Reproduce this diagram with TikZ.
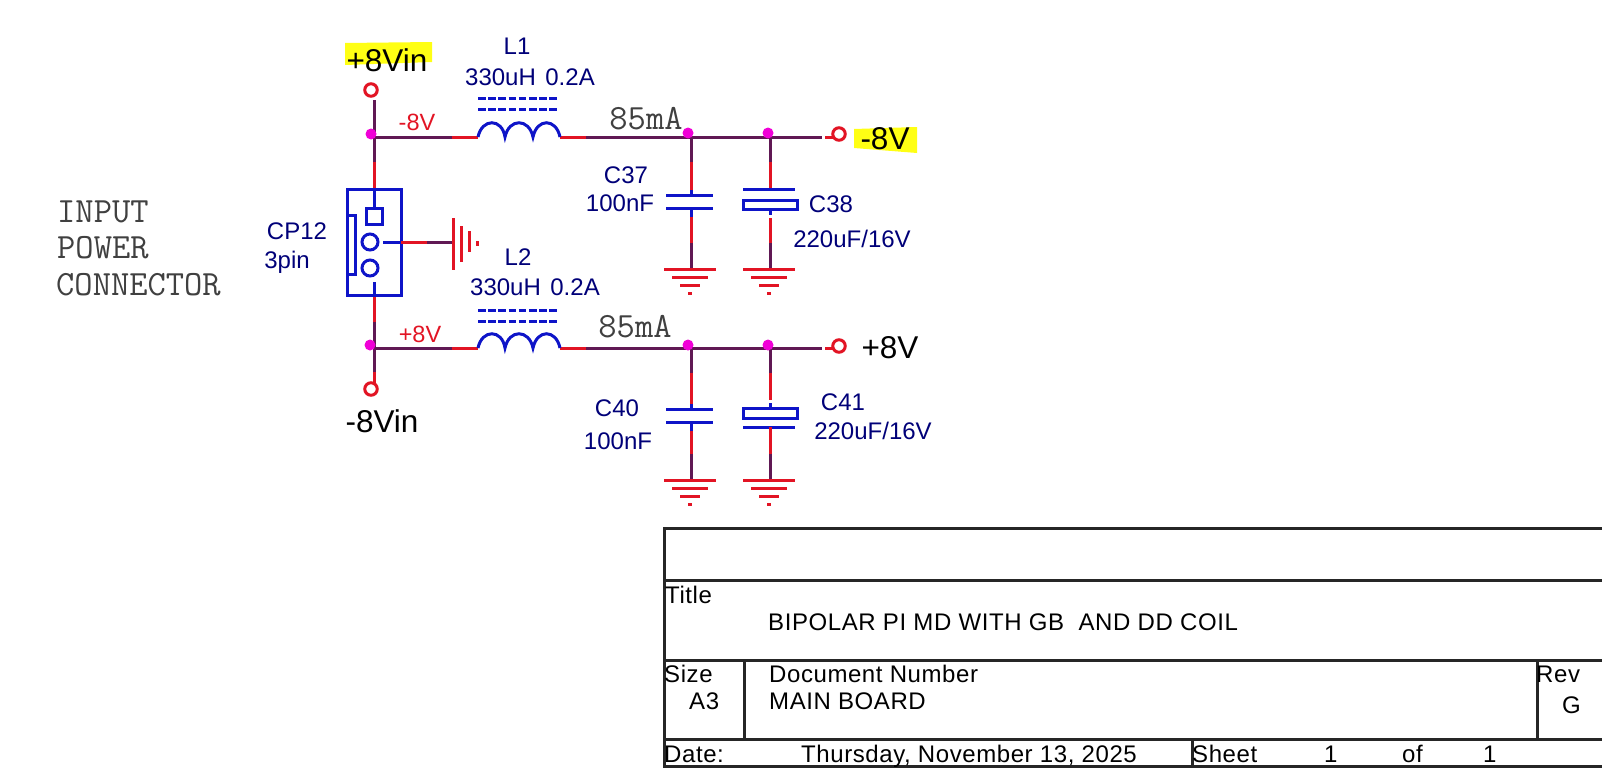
\documentclass[tikz,border=0pt]{standalone}
\usepackage{fontspec}
\usepackage{xcolor}
\setmainfont{Liberation Sans}
\usetikzlibrary{positioning,calc}
\definecolor{netpurple}{RGB}{96,24,84}
\definecolor{pinred}{RGB}{226,20,36}
\definecolor{partblue}{RGB}{14,20,200}
\definecolor{labelnavy}{RGB}{0,0,120}
\definecolor{junctionpink}{RGB}{240,0,215}
\definecolor{markyellow}{RGB}{255,255,20}
\tikzset{
  net/.style={draw=netpurple, line width=3pt},
  pin/.style={draw=pinred, line width=3pt},
  part/.style={draw=partblue, line width=3pt},
  gndbar/.style={draw=pinred, line width=3pt},
  frameline/.style={draw=black!85, line width=3pt},
  junction/.style={circle, fill=junctionpink, inner sep=0pt, minimum size=11pt},
  port/.style={circle, draw=pinred, line width=3pt, inner sep=0pt, minimum size=12.5pt},
  pinmark/.style={draw=partblue, line width=3pt, minimum size=16pt, inner sep=0pt},
  partlabel/.style={text=labelnavy, inner sep=0pt, font=\fontsize{24}{26}\selectfont},
  netlabel/.style={text=pinred, inner sep=0pt, font=\fontsize{23.5}{26}\selectfont},
  powerlabel/.style={text=black, inner sep=0pt, font=\fontsize{31.5}{33}\selectfont},
  monolabel/.style={text=black!75, inner sep=0pt, anchor=west, font=\ttfamily\fontsize{35.5}{37}\selectfont},
  titletext/.style={text=black, inner sep=0pt, anchor=base west, font=\fontsize{24}{26}\selectfont\addfontfeature{LetterSpace=2.4}}
}

\begin{document}
\begin{tikzpicture}[x=1pt,y=-1pt]
\useasboundingbox (0,0) rectangle (1602,771);

% Highlights
\fill[markyellow] (345,43) -- (432,42) -- (432,62) -- (345,65) -- cycle;
\fill[markyellow] (854,129) -- (917,127) -- (917,153) -- (854,148) -- cycle;

% Ports
\node[port] (portA) at (371,90) {};
\node[port] (portB) at (371,389) {};
\node[port] (portC) at (839,134) {};
\node[port] (portD) at (839,346) {};

% Net points
\coordinate (nA) at (374,137);
\coordinate (nB) at (374,348);
\coordinate (nC) at (691,137);
\coordinate (nD) at (770,137);
\coordinate (nE) at (691,348);
\coordinate (nF) at (770,348);

% Upper branch
\draw[net] (374,100) -- (374,162);
\draw[pin] (374,162) -- (374,189);
\draw[net] (nA) -- (452,137);
\draw[pin] (452,137) -- (478,137);
\draw[pin] (560,137) -- (586,137);
\draw[net] (586,137) -- (nC) -- (nD) -- (822,137);
\draw[pin] (825,137) -- (833,137);

% Lower branch
\draw[pin] (374,295) -- (374,322);
\draw[net] (374,322) -- (nB) -- (374,372);
\draw[pin] (374,372) -- (374,383);
\draw[net] (nB) -- (452,348);
\draw[pin] (452,348) -- (478,348);
\draw[pin] (560,348) -- (586,348);
\draw[net] (586,348) -- (nE) -- (nF) -- (822,348);
\draw[pin] (825,348) -- (833,348);

% Inductors
\foreach \ly in {137,348} {
  \draw[part] (478,\ly) .. controls (482,\ly-19) and (502,\ly-19) .. (505,\ly)
              .. controls (509,\ly-19) and (529,\ly-19) .. (533,\ly)
              .. controls (537,\ly-19) and (556,\ly-19) .. (560,\ly);
}
\foreach \dy in {98,109,310,321} {
  \draw[part, dash pattern=on 7.5pt off 2.7pt] (478,\dy) -- (558,\dy);
}

% Connector
\draw[part] (347,189) rectangle (401,295);
\node[pinmark] (pinone) at (374,216) {};
\node[pinmark, circle] (pintwo) at (370,242) {};
\node[pinmark, circle] (pinthree) at (370,268) {};
\draw[part] (374,189) -- (pinone);
\draw[part] (347,215) -- (355,215) -- (355,274) -- (347,274);
\draw[part] (383,242) -- (401,242);
\draw[part] (374,282) -- (374,295);

% Chassis ground
\coordinate (chassis) at (453,242);
\draw[pin] (401,242) -- (427,242);
\draw[net] (427,242) -- (chassis);
\draw[gndbar] (453,218) -- (453,270);
\draw[gndbar] (461,226) -- (461,262);
\draw[gndbar] (469,231) -- (469,252);
\draw[gndbar] (477,241) -- (477,246);

% Film capacitors
\foreach \py/\gy/\ty in {195/269/137, 409/480/348} {
  \draw[net] (691,\ty) -- (691,\ty+25);
  \draw[pin] (691,\ty+25) -- (691,\py-5);
  \draw[part] (691,\py-5) -- (691,\py);
  \draw[part] (666,\py) -- (713,\py);
  \draw[part] (666,\py+13) -- (713,\py+13);
  \draw[part] (691,\py+13) -- (691,\py+22);
  \draw[pin] (691,\py+22) -- (691,\gy-26);
  \draw[net] (691,\gy-26) -- (691,\gy);
}

% Electrolytic capacitors
\draw[net] (nD) -- (770,162);
\draw[pin] (770,162) -- (770,189);
\draw[part] (743,189) -- (795,189);
\draw[part] (743,200) rectangle (797,209);
\draw[part] (770,209) -- (770,215);
\draw[pin] (770,218) -- (770,243);
\draw[net] (770,243) -- (770,269);

\draw[net] (nF) -- (770,373);
\draw[pin] (770,373) -- (770,400);
\draw[part] (770,403) -- (770,408);
\draw[part] (743,408) rectangle (797,418);
\draw[part] (743,427) -- (795,427);
\draw[pin] (770,427) -- (770,454);
\draw[net] (770,454) -- (770,480);

% Grounds
\foreach \gx/\gy in {690/269, 769/269, 690/480, 769/480} {
  \draw[gndbar] (\gx-26,\gy) -- (\gx+26,\gy);
  \draw[gndbar] (\gx-18,\gy+8) -- (\gx+18,\gy+8);
  \draw[gndbar] (\gx-10,\gy+16) -- (\gx+10,\gy+16);
  \draw[gndbar] (\gx-2,\gy+24) -- (\gx+2,\gy+24);
}

% Junction dots
\node[junction] (dotA) at (371,134) {};
\node[junction] (dotB) at (370,345) {};
\node[junction] (dotC) at (688,133) {};
\node[junction] (dotD) at (768,133) {};
\node[junction] (dotE) at (688,345) {};
\node[junction] (dotF) at (768,345) {};

% Part labels
\node[partlabel] (labelLa) at (517,46) {L1};
\node[partlabel] (valueLa) at (530,77) {330uH\hspace{9.5pt}0.2A};
\node[partlabel] (labelLb) at (518,257) {L2};
\node[partlabel] (valueLb) at (535,287) {330uH\hspace{9.5pt}0.2A};
\node[partlabel] (labelCP) at (297,231) {CP12};
\node[partlabel] (valueCP) at (287,262) {3pin};
\node[partlabel] (labelCa) at (626,175) {C37};
\node[partlabel] (valueCa) at (620,203) {100nF};
\node[partlabel] (labelCb) at (831,204) {C38};
\node[partlabel] (valueCb) at (852,239) {220uF/16V};
\node[partlabel] (labelCc) at (617,408) {C40};
\node[partlabel] (valueCc) at (618,441) {100nF};
\node[partlabel] (labelCd) at (843,402) {C41};
\node[partlabel] (valueCd) at (873,431) {220uF/16V};

% Net labels
\node[netlabel] (netA) at (417,122) {-8V};
\node[netlabel] (netB) at (420,334) {+8V};
\node[powerlabel] (powerA) at (387,60) {+8Vin};
\node[powerlabel] (powerB) at (382,421) {-8Vin};
\node[powerlabel] (powerC) at (885,139) {-8V};
\node[powerlabel] (powerD) at (890,348) {+8V};

% Courier notes
\node[monolabel] (noteA) at (57,212) {INPUT};
\node[monolabel] (noteB) at (57,248) {POWER};
\node[monolabel] (noteC) at (56,285) {CONNECTOR};
\node[monolabel, anchor=center] (currentA) at (646,119) {85mA};
\node[monolabel, anchor=center] (currentB) at (635,327) {85mA};

% Title block
\coordinate (frameTL) at (664,528);
\coordinate (frameBL) at (664,766);
\draw[frameline] (1602,528) -- (frameTL) -- (frameBL) -- (1602,766);
\draw[frameline] (664,580) -- (1602,580);
\draw[frameline] (664,660) -- (1602,660);
\draw[frameline] (664,739) -- (1602,739);
\draw[frameline] (744,660) -- (744,739);
\draw[frameline] (1537,660) -- (1537,739);
\draw[frameline] (1192,739) -- (1192,766);

\node[titletext] (titleHead) at (665,603) {Title};
\node[titletext] (titleText) at (768,630) {BIPOLAR PI MD WITH GB\ \ AND DD COIL};
\node[titletext] (sizeHead) at (664,682) {Size};
\node[titletext] (sizeText) at (689,709) {A3};
\node[titletext] (docHead) at (769,682) {Document Number};
\node[titletext] (docText) at (769,709) {MAIN BOARD};
\node[titletext] (revHead) at (1536,682) {Rev};
\node[titletext] (revText) at (1562,713) {G};
\node[titletext] (dateHead) at (664,762) {Date:};
\node[titletext] (dateText) at (801,762) {Thursday, November 13, 2025};
\node[titletext] (sheetHead) at (1192,762) {Sheet};
\node[titletext] (sheetNum) at (1324,762) {1};
\node[titletext] (ofWord) at (1402,762) {of};
\node[titletext] (sheetOf) at (1483,762) {1};
\end{tikzpicture}
\end{document}
